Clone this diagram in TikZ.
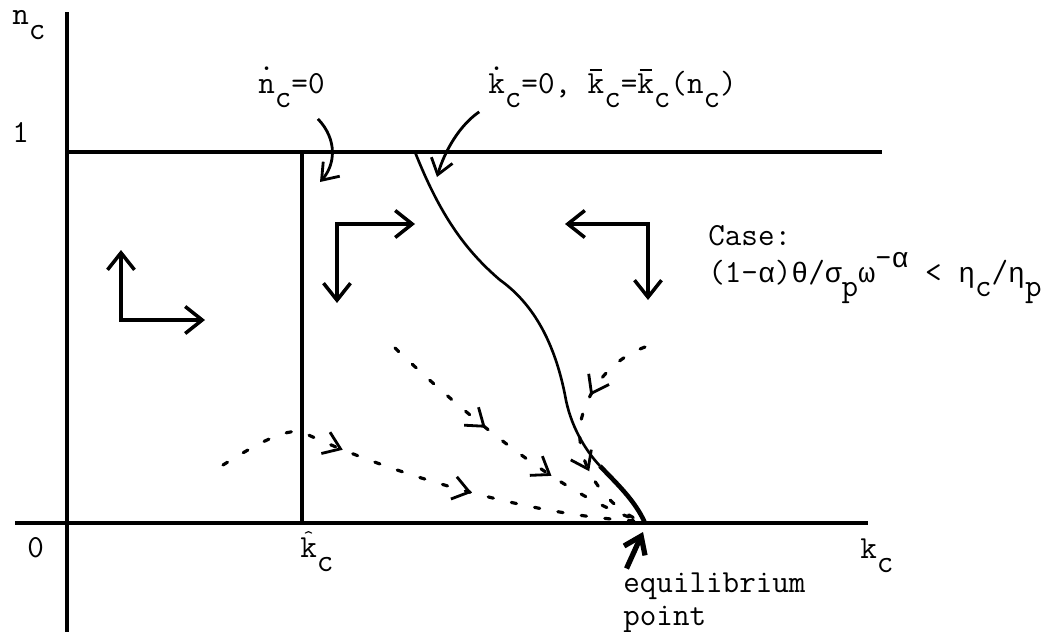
\documentclass[tikz,border=0pt]{standalone}
\usepackage{fontspec}
\newfontfamily\grk{Liberation Mono}[Scale=0.874]
\usetikzlibrary{arrows.meta,decorations.markings}

\newcommand{\shiftdn}[1]{\raisebox{-0.46em}{#1}}
\newcommand{\shiftup}[1]{\raisebox{0.46em}{#1}}
\newcommand{\dotover}[1]{\ooalign{#1\cr\hidewidth\raisebox{0.7em}{.}\hidewidth\cr}}
\newcommand{\barover}[1]{\ooalign{#1\cr\hidewidth\rule[0.67em]{0.38em}{0.07em}\hidewidth\cr}}
\newcommand{\hatover}[1]{\ooalign{#1\cr\hidewidth\raisebox{0.42em}{\scalebox{0.6}{\textasciicircum}}\hidewidth\cr}}

\tikzset{tbarb/.tip={Straight Barb[length=3.2mm,width=4.6mm,line width=1.6pt]}}

\begin{document}
\begin{tikzpicture}[
    x=0.02cm, y=-0.02cm,
    every node/.style={inner sep=0pt, font=\ttfamily\fontsize{18.3}{22}\selectfont},
    axis/.style={line width=2.1pt},
    curve/.style={line width=1.5pt},
    phase/.style={line width=2pt, {Straight Barb[length=3.4mm,width=5.4mm]}-{Straight Barb[length=3.4mm,width=5.4mm]}},
    note/.style={line width=1.6pt, -{Straight Barb[length=3mm,width=4.4mm]}},
    eqarrow/.style={line width=3pt, -{Straight Barb[length=3.2mm,width=4.6mm]}},
    trail/.style={line width=1.8pt, line cap=round, dash pattern=on 3pt off 10.5pt},
    tips/.style 2 args={postaction={decorate}, decoration={markings,
        mark=at position #1 with {\arrow{tbarb}}, mark=at position #2 with {\arrow{tbarb}}}}
]
\useasboundingbox (0,0) rectangle (1055,632);
\coordinate (ytop) at (67,12);
\coordinate (ybot) at (67,632);
\coordinate (xl) at (15,523);
\coordinate (xr) at (868,523);
\coordinate (one) at (67,152);
\coordinate (oner) at (882,152);
\coordinate (khattop) at (302,152);
\coordinate (khat) at (302,523);
\coordinate (kbartop) at (415,152);
\coordinate (eq) at (645,523);
\coordinate (ndottip) at (320,182);
\coordinate (kdottip) at (437,177);
\coordinate (eqtip) at (643,532);

\draw[axis] (ytop) -- (ybot);
\draw[axis] (xl) -- (xr);
\draw[axis] (one) -- (oner);
\draw[axis] (khattop) -- (khat);

\draw[curve] (kbartop) .. controls (440,215) and (465,250) .. (500,280)
    .. controls (535,305) and (555,345) .. (565,395)
    .. controls (570,425) and (585,450) .. (600,466);
\draw[line width=2.6pt] (600,466) .. controls (615,482) and (635,500) .. (eq);

\draw[phase] (121,250) -- (121,320) -- (205,320);
\draw[phase] (337,303) -- (337,224) -- (415,224);
\draw[phase] (565,224) -- (648,224) -- (648,300);

\draw[trail, tips={0.30}{0.61}] (223,465) .. controls (255,445) and (285,428) .. (302,432)
    .. controls (400,478) and (540,517) .. (640,521);
\draw[trail, tips={0.40}{0.67}] (395,348) .. controls (460,410) and (560,495) .. (640,521);
\draw[trail, tips={0.33}{0.68}] (645,347) .. controls (615,358) and (588,385) .. (580,425)
    .. controls (576,465) and (605,505) .. (640,521);

\node[anchor=base west] (nlbl) at (12,25) {n\shiftdn{c}};
\node[anchor=base west] (onelbl) at (12,142) {1};
\node[anchor=base west] (zerolbl) at (27,557) {0};
\node[anchor=base west] (khatlbl) at (300,557) {\hatover{k}\shiftdn{c}};
\node[anchor=base west] (klbl) at (860,558) {k\shiftdn{c}};
\node[anchor=base west] (ndotlbl) at (258,93) {\dotover{n}\shiftdn{c}=0};
\node[anchor=base west] (kdotlbl) at (488,93) {\dotover{k}\shiftdn{c}=0, \barover{k}\shiftdn{c}=\barover{k}\shiftdn{c}(n\shiftdn{c})};
\node[anchor=base west] (caselbl) at (708,245) {Case:};
\node[anchor=base west] (condlbl) at (708,282) {(1-{\grk α}){\grk θ}/{\grk σ}\shiftdn{p}{\grk ω}\shiftup{-{\grk α}} < {\grk η}\shiftdn{c}/{\grk η}\shiftdn{p}};
\node[anchor=base west] (eqlbl) at (623,592) {equilibrium};
\node[anchor=base west] (eqlbl2) at (623,625) {point};

\draw[note] ([xshift=-4pt,yshift=-6pt]ndotlbl.south east) .. controls (338,140) and (335,165) .. (ndottip);
\draw[note] ([xshift=-5pt,yshift=-2pt]kdotlbl.south west) .. controls (460,125) and (445,150) .. (kdottip);
\draw[eqarrow] ([xshift=2pt,yshift=2pt]eqlbl.north west) -- (eqtip);
\end{tikzpicture}
\end{document}
